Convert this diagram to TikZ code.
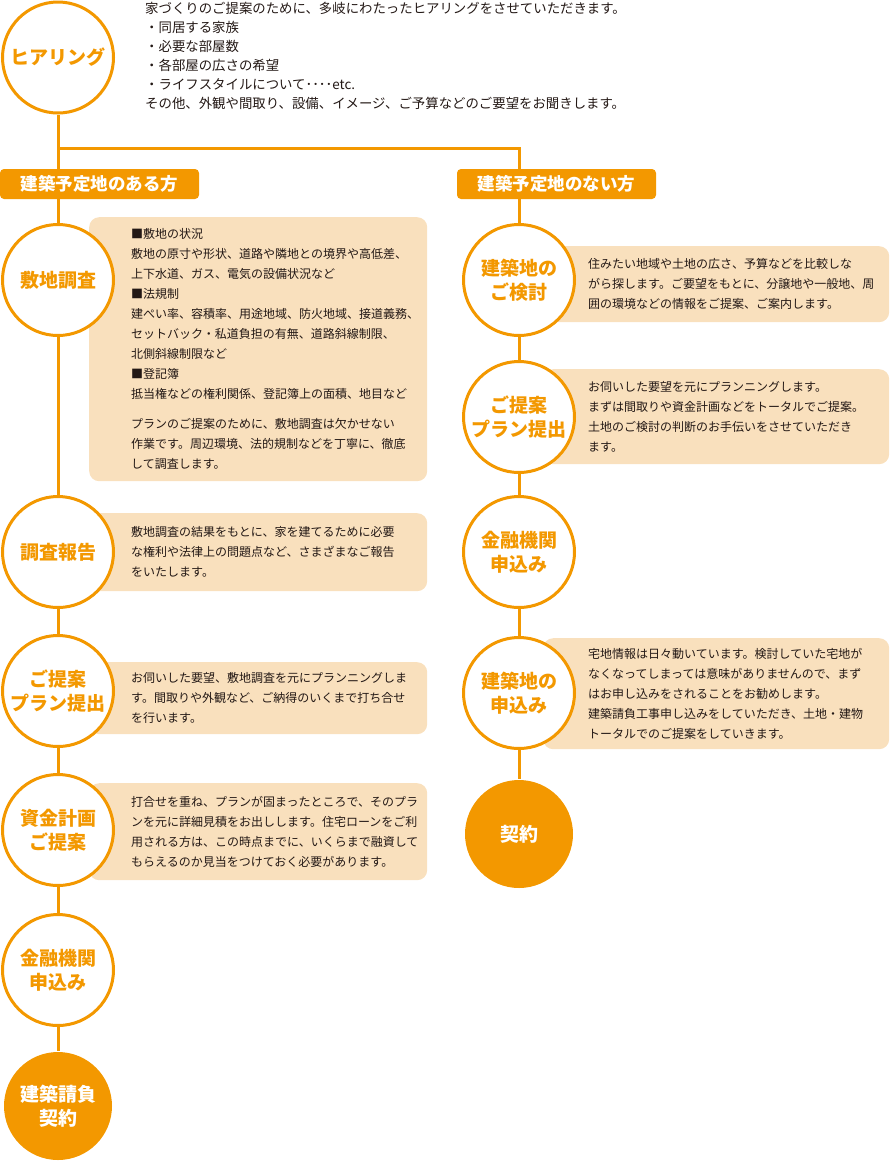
\documentclass[tikz,border=0pt]{standalone}
\usepackage{fontspec}
\setmainfont{Noto Sans CJK JP}
\usetikzlibrary{positioning,backgrounds}
\definecolor{flowor}{HTML}{F39800}
\definecolor{memobg}{HTML}{F9E0BD}
\definecolor{ink}{HTML}{231815}
\begin{document}
\begin{tikzpicture}[x=1pt,y=-1pt]
  \tikzset{
    flow/.style={circle,draw=flowor,line width=3pt,fill=white,minimum size=111pt,inner sep=0pt,
      text=flowor,font=\fontsize{19}{24}\selectfont\bfseries,align=center},
    goal/.style={flow,draw=none,fill=flowor,text=white,minimum size=108pt},
    tag/.style={fill=flowor,rounded corners=4pt,text=white,inner sep=0pt,
      font=\fontsize{17.5}{20}\selectfont\bfseries,minimum width=199pt,minimum height=30pt},
    memo/.style={fill=memobg,rounded corners=10pt,inner sep=0pt,anchor=north west},
    memotext/.style={inner sep=0pt,align=left,text=ink,font=\fontsize{12}{20}\selectfont},
    link/.style={draw=flowor,line width=3pt}
  }
  \def\lx{58}
  \def\rx{519}
  \useasboundingbox (0,0) rectangle (890,1163);

  % hearing
  \node[flow] (hear) at (\lx,57.5) {ヒアリング};
  \node[memotext,anchor=north west,font=\fontsize{13.4}{19}\selectfont] (heartext) at (145,2)
    {家づくりのご提案のために、多岐にわたったヒアリングをさせていただきます。\\
     ・同居する家族\\
     ・必要な部屋数\\
     ・各部屋の広さの希望\\
     ・ライフスタイルについて････etc.\\
     その他、外観や間取り、設備、イメージ、ご予算などのご要望をお聞きします。};
  \coordinate (split) at (\lx,148);
  \coordinate (splitR) at (\rx,148);

  % memo boxes (left)
  \node[memo,minimum width=338pt,minimum height=264pt] (m1) at (89,217) {};
  \node[memotext,right=42pt of m1.west] (t1)
    {■敷地の状況\\
     敷地の原寸や形状、道路や隣地との境界や高低差、\\
     上下水道、ガス、電気の設備状況など\\
     ■法規制\\
     建ぺい率、容積率、用途地域、防火地域、接道義務、\\
     セットバック・私道負担の有無、道路斜線制限、\\
     北側斜線制限など\\
     ■登記簿\\
     抵当権などの権利関係、登記簿上の面積、地目など\\[10pt]
     プランのご提案のために、敷地調査は欠かせない\\
     作業です。周辺環境、法的規制などを丁寧に、徹底\\
     して調査します。};
  \node[memo,minimum width=338pt,minimum height=78pt] (m2) at (89,513) {};
  \node[memotext,right=42pt of m2.west] (t2)
    {敷地調査の結果をもとに、家を建てるために必要\\
     な権利や法律上の問題点など、さまざまなご報告\\
     をいたします。};
  \node[memo,minimum width=338pt,minimum height=72pt] (m3) at (89,662) {};
  \node[memotext,right=42pt of m3.west] (t3)
    {お伺いした要望、敷地調査を元にプランニングしま\\
     す。間取りや外観など、ご納得のいくまで打ち合せ\\
     を行います。};
  \node[memo,minimum width=338pt,minimum height=97pt] (m4) at (89,783) {};
  \node[memotext,right=42pt of m4.west] (t4)
    {打合せを重ね、プランが固まったところで、そのプラ\\
     ンを元に詳細見積をお出しします。住宅ローンをご利\\
     用される方は、この時点までに、いくらまで融資して\\
     もらえるのか見当をつけておく必要があります。};

  % memo boxes (right)
  \node[memo,minimum width=346pt,minimum height=76pt] (m5) at (543,246) {};
  \node[memotext,right=45pt of m5.west] (t5)
    {住みたい地域や土地の広さ、予算などを比較しな\\
     がら探します。ご要望をもとに、分譲地や一般地、周\\
     囲の環境などの情報をご提案、ご案内します。};
  \node[memo,minimum width=346pt,minimum height=95pt] (m6) at (543,369) {};
  \node[memotext,right=45pt of m6.west] (t6)
    {お伺いした要望を元にプランニングします。\\
     まずは間取りや資金計画などをトータルでご提案。\\
     土地のご検討の判断のお手伝いをさせていただき\\
     ます。};
  \node[memo,minimum width=346pt,minimum height=111pt] (m7) at (543,638) {};
  \node[memotext,right=45pt of m7.west] (t7)
    {宅地情報は日々動いています。検討していた宅地が\\
     なくなってしまっては意味がありませんので、まず\\
     はお申し込みをされることをお勧めします。\\
     建築請負工事申し込みをしていただき、土地・建物\\
     トータルでのご提案をしていきます。};

  % steps (left)
  \node[flow] (shikichi) at (\lx,280) {敷地調査};
  \node[flow] (houkoku) at (\lx,552) {調査報告};
  \node[flow] (teianL) at (\lx,691) {ご提案\\プラン提出};
  \node[flow] (shikin) at (\lx,830) {資金計画\\ご提案};
  \node[flow] (yuushiL) at (\lx,970) {金融機関\\申込み};
  \node[goal] (ukeoi) at (\lx,1106) {建築請負\\契約};

  % steps (right)
  \node[flow] (kentou) at (\rx,280) {建築地の\\ご検討};
  \node[flow] (teianR) at (\rx,417) {ご提案\\プラン提出};
  \node[flow] (yuushiR) at (\rx,552) {金融機関\\申込み};
  \node[flow] (moushi) at (\rx,693) {建築地の\\申込み};
  \node[goal] (keiyaku) at (\rx,834) {契約};

  % banners
  \node[tag] (ari) at (99.5,184) {建築予定地のある方};
  \node[tag] (nashi) at (556.5,184) {建築予定地のない方};

  \begin{scope}[on background layer]
    \draw[link] (hear) -- (split) -- (splitR) -- (kentou);
    \draw[link] (split) -- (shikichi) -- (houkoku) -- (teianL) -- (shikin) -- (yuushiL) -- (ukeoi);
    \draw[link] (kentou) -- (teianR) -- (yuushiR) -- (moushi) -- (keiyaku);
  \end{scope}
\end{tikzpicture}
\end{document}
